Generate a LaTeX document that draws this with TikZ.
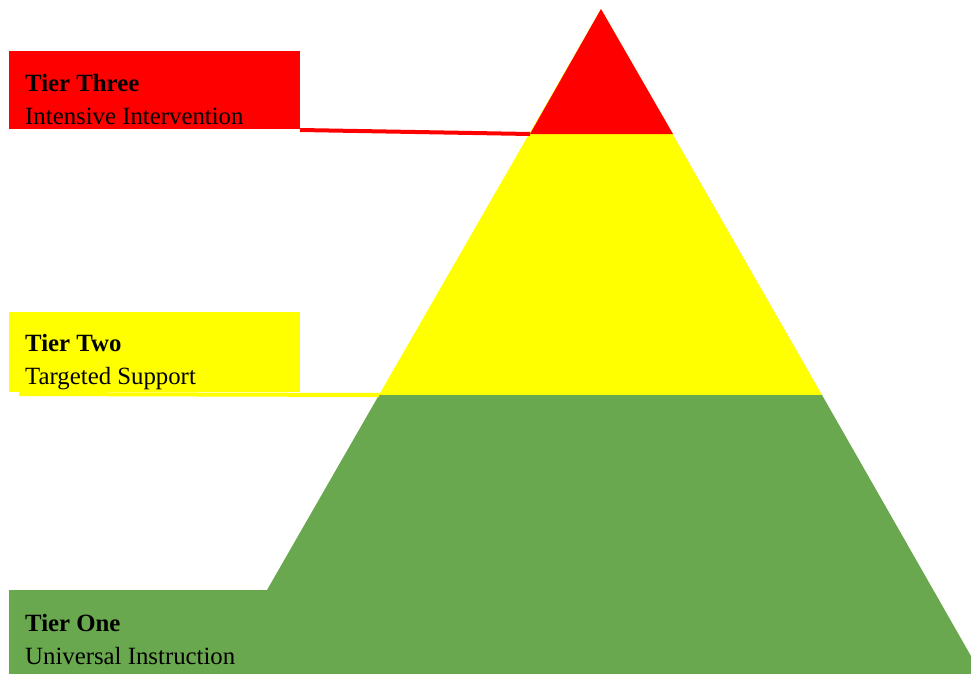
\documentclass[tikz,border=0pt]{standalone}
\usepackage{fontspec}
\setmainfont{Liberation Serif}
\usetikzlibrary{positioning}

\definecolor{tierred}{RGB}{255,0,0}
\definecolor{tieryellow}{RGB}{255,255,0}
\definecolor{tiergreen}{RGB}{106,168,79}

\tikzset{
  tierbox/.style={rectangle, inner sep=0, outer sep=0, minimum width=291pt, minimum height=#1, anchor=north west},
  tiertitle/.style={anchor=base west, inner sep=0, font=\fontsize{24.8}{30}\selectfont\bfseries},
  tiersub/.style={anchor=base west, inner sep=0, font=\fontsize{24.8}{30}\selectfont},
  tierlink/.style={line width=4pt},
}

\begin{document}
\begin{tikzpicture}[x=1pt, y=-1pt]
\useasboundingbox (0,0) rectangle (971,674);

% Pyramid corners
\coordinate (apex) at (601,9);
\coordinate (t3left) at (530,134);
\coordinate (t3right) at (673,134);
\coordinate (t2left) at (379,395);
\coordinate (t2right) at (822,395);
\coordinate (t1left) at (267,590);
\coordinate (edgeright) at (971,656);
\coordinate (cornerright) at (971,674);

% Label boxes
\node[tierbox=78pt, fill=tierred] (boxthree) at (9,51) {};
\node[tierbox=80pt, fill=tieryellow] (boxtwo) at (9,312) {};
\node[tierbox=84pt, fill=tiergreen] (boxone) at (9,590) {};

% Layers
\fill[tieryellow] (apex) -- (t2right) -- (t2left) -- cycle;
\fill[tierred] (apex) -- (t3right) -- (t3left) -- cycle;
\fill[tiergreen] (t2left) -- (t2right) -- (edgeright) -- (cornerright)
  -- (boxone.south east) -- (t1left) -- cycle;

% Links from boxes to layers
\draw[tierlink, tierred] ([yshift=-1pt]boxthree.south east) -- (t3left);
\draw[tierlink, tieryellow] ([xshift=10pt, yshift=-2pt]boxtwo.south west) -- (t2left);

% Texts
\node[tiertitle] (titlethree) at (25,91.7) {Tier Three};
\node[tiersub] (subthree) at ([yshift=-33pt]titlethree.base west) {Intensive Intervention};
\node[tiertitle] (titletwo) at (25,351.7) {Tier Two};
\node[tiersub] (subtwo) at ([yshift=-33pt]titletwo.base west) {Targeted Support};
\node[tiertitle] (titleone) at (25,631.5) {Tier One};
\node[tiersub] (subone) at ([yshift=-33pt]titleone.base west) {Universal Instruction};

\end{tikzpicture}
\end{document}
